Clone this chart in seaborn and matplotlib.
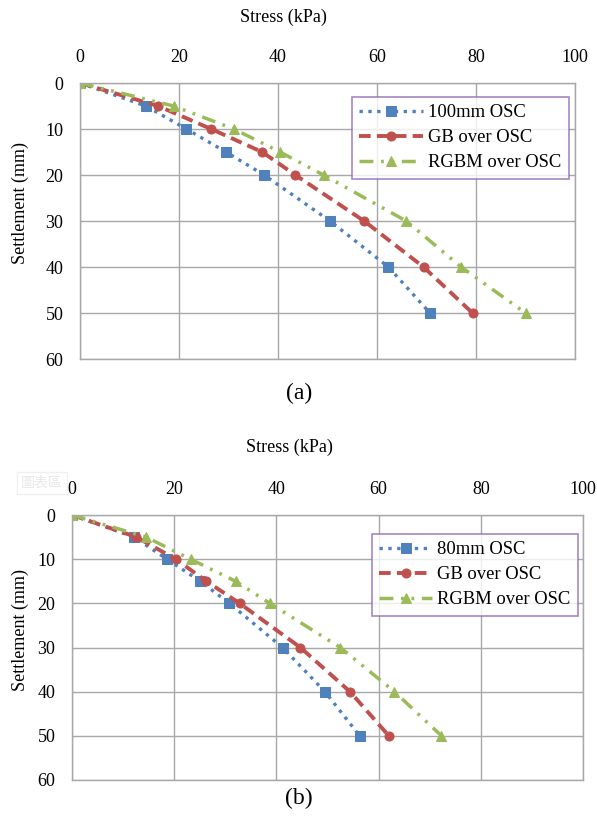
import numpy as np
import pandas as pd
import seaborn as sns
import matplotlib.pyplot as plt

# panel (a) - 100mm OSC
settle_a = [0, 5, 10, 15, 20, 30, 40, 50]
osc100 = [0, 13.3, 21.5, 29.5, 37.2, 50.5, 62.3, 70.7]
gb_a = [0, 15.8, 26.5, 36.8, 43.5, 57.4, 69.4, 79.3]
rgbm_a = [0, 18.9, 31.1, 40.4, 49.2, 65.9, 77.0, 90.0]

# panel (b) - 80mm OSC
settle_b = [0, 5, 10, 15, 20, 30, 40, 50]
osc80 = [0, 12.1, 18.6, 25.1, 30.8, 41.2, 49.5, 56.3]
gb_b = [0, 12.6, 20.3, 26.3, 32.8, 44.7, 54.4, 62.0]
rgbm_b = [0, 14.5, 23.2, 32.0, 38.7, 52.5, 63.1, 72.3]

xticks = [0, 20, 40, 60, 80, 100]
yticks = [0, 10, 20, 30, 40, 50, 60]

sns.set_style('white')
plt.rcParams['font.family'] = ['Liberation Serif', 'Noto Sans CJK TC', 'DejaVu Sans']
plt.rcParams['text.color'] = 'black'
plt.rcParams['xtick.color'] = 'black'
plt.rcParams['ytick.color'] = 'black'

W, H = 597, 819
fig = plt.figure(figsize=(W / 100, H / 100), dpi=100)

blue = '#4F81BD'
red = '#C0504D'
green = '#9BBB59'
gridc = '#A8A8A8'


def box(l, t, r, b):
    return [l / W, 1 - b / H, (r - l) / W, (b - t) / H]


def panel(ax, stress_lists, settle, labels, leg_bbox, hl):
    styles = [
        dict(color=blue, marker='s', ls=':', lw=2.4, ms=6.5),
        dict(color=red, marker='o', ls=(0, (3, 1.6)), lw=2.8, ms=6.5),
        dict(color=green, marker='^', ls=(0, (4, 2.2, 0.8, 2.2, 0.8, 2.2)), lw=2.5, ms=7),
    ]
    for s, lab, st in zip(stress_lists, labels, styles):
        df = pd.DataFrame({'stress': s, 'settle': settle})
        sns.lineplot(data=df, x='stress', y='settle', ax=ax, sort=False,
                     errorbar=None, label=lab, markeredgecolor=st['color'],
                     **st)
    ax.set_xlim(0, 100)
    ax.set_ylim(60, 0)
    ax.set_xticks(xticks)
    ax.set_yticks(yticks)
    ax.xaxis.tick_top()
    ax.grid(True, color=gridc, lw=1)
    for sp in ax.spines.values():
        sp.set_color(gridc)
        sp.set_linewidth(1)
    ax.tick_params(length=0, labelsize=13, pad=12, labelcolor='black')
    ax.set_xlabel('')
    ax.set_ylabel('')
    leg = ax.legend(loc='upper left', bbox_to_anchor=leg_bbox, bbox_transform=fig.transFigure,
                    frameon=True, fancybox=False, fontsize=13.4, handlelength=hl,
                    labelspacing=0.42, borderpad=0.4, handletextpad=0.3, numpoints=1,
                    borderaxespad=0)
    leg.get_frame().set_edgecolor('#8E6BB5')
    leg.get_frame().set_linewidth(1.2)


ax1 = fig.add_axes(box(80, 83, 575, 359))
panel(ax1, [osc100, gb_a, rgbm_a], settle_a,
      ['100mm OSC', 'GB over OSC', 'RGBM over OSC'], (352 / W, 1 - 97 / H), 3.4)

ax2 = fig.add_axes(box(72, 515, 583, 780))
panel(ax2, [osc80, gb_b, rgbm_b], settle_b,
      ['80mm OSC', 'GB over OSC', 'RGBM over OSC'], (372 / W, 1 - 534 / H), 2.8)

fig.text(283 / W, 1 - 17 / H, 'Stress (kPa)', ha='center', va='center', fontsize=13)
fig.text(289 / W, 1 - 447 / H, 'Stress (kPa)', ha='center', va='center', fontsize=13)
fig.text(20 / W, 1 - 203 / H, 'Settlement (mm)', ha='center', va='center',
         rotation=90, fontsize=13)
fig.text(20 / W, 1 - 630 / H, 'Settlement (mm)', ha='center', va='center',
         rotation=90, fontsize=13)
fig.text(299 / W, 1 - 393 / H, '(a)', ha='center', va='center', fontsize=17)
fig.text(299 / W, 1 - 798 / H, '(b)', ha='center', va='center', fontsize=17)

# faint "chart area" ghost label
fig.text(42 / W, 1 - 483 / H, '圖表區', ha='center', va='center', fontsize=10,
         color='#e8e8e8', family=['Noto Sans CJK TC', 'DejaVu Sans'],
         bbox=dict(facecolor='white', edgecolor='#f0f0f0', pad=3))

plt.savefig('out.png', dpi=100)
